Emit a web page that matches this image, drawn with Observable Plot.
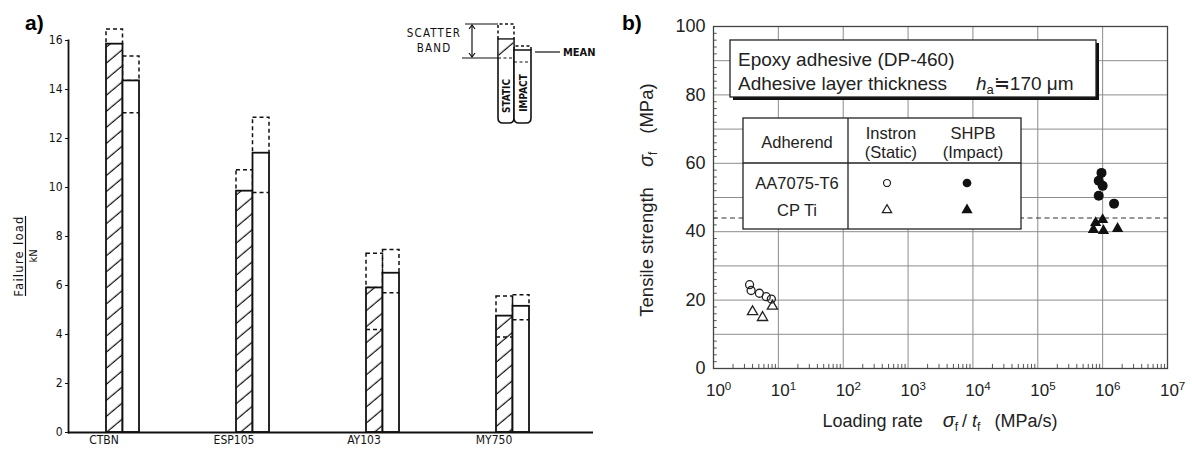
<!DOCTYPE html>
<html><head><meta charset="utf-8">
<script src="https://cdn.jsdelivr.net/npm/d3@7"></script>
<script src="https://cdn.jsdelivr.net/npm/@observablehq/plot@0.6"></script>
<style>
body{margin:0;background:#fff;}
#wrap{position:relative;width:1192px;height:449px;overflow:hidden;background:#fff;}
#a,#b{position:absolute;top:0;}
#a{left:0;} #b{left:600px;}
</style></head><body><div id="wrap"><div id="a"></div><div id="b"></div></div>
<script>
// ---------- Panel a: failure load (kN) ----------
const adhesives = ["CTBN", "ESP105", "AY103", "MY750"];
const staticMean = [15.85, 9.85, 5.9, 4.75];
const staticHigh = [16.45, 10.7, 7.3, 5.55];
const staticLow = [null, null, 4.2, 3.9];
const impactMean = [14.35, 11.4, 6.5, 5.15];
const impactHigh = [15.35, 12.85, 7.45, 5.6];
const impactLow = [13.05, 9.8, 5.7, 4.6];
const loadTicks = [0, 2, 4, 6, 8, 10, 12, 14, 16];

// ---------- Panel b: tensile strength vs loading rate ----------
const staticCircleRate = [3.6, 3.8, 5.1, 6.5, 7.8];
const staticCircleStrength = [24.5, 22.8, 22.0, 21.0, 20.3];
const staticTriangleRate = [4.0, 5.7, 8.1];
const staticTriangleStrength = [16.6, 14.9, 18.2];
const impactCircleRate = [9.6e5, 8.7e5, 1.0e6, 8.7e5, 1.5e6];
const impactCircleStrength = [57.2, 54.9, 53.4, 50.5, 48.2];
const impactTriangleRate = [7.8e5, 1.0e6, 7.2e5, 1.03e6, 1.7e6];
const impactTriangleStrength = [42.6, 43.5, 40.6, 40.3, 40.9];
const meanStrength = 44;
const rateTicks = [1, 10, 100, 1e3, 1e4, 1e5, 1e6, 1e7];
const strengthTicks = [0, 20, 40, 60, 80, 100];

// ================= PANEL A =================
const rowsA = adhesives.map((a, i) => ({
  a, sMean: staticMean[i], sHigh: staticHigh[i], sLow: staticLow[i],
  iMean: impactMean[i], iHigh: impactHigh[i], iLow: impactLow[i]
}));
const half = 16.5;
const dash = {fill: "none", stroke: "#111", strokeWidth: 1.5, strokeDasharray: "4,3"};
const plotA = Plot.plot({
  width: 600, height: 449,
  marginLeft: 68, marginRight: 7, marginTop: 40, marginBottom: 17,
  style: {fontFamily: '"DejaVu Sans Condensed", "DejaVu Sans", sans-serif', fontSize: "12px", color: "#111", background: "white"},
  x: {domain: adhesives, paddingInner: 0.746, paddingOuter: 0.392, align: 0.368},
  y: {domain: [0, 16]},
  marks: [
    Plot.barY(rowsA, {x: "a", y1: "sMean", y2: "sHigh", insetRight: half, ...dash}),
    Plot.barY(rowsA, {x: "a", y1: "iMean", y2: "iHigh", insetLeft: half, ...dash}),
    Plot.barY(rowsA, {x: "a", y: "sMean", insetRight: half, fill: "url(#hatchA)", stroke: "#111", strokeWidth: 1.8}),
    Plot.barY(rowsA, {x: "a", y: "iMean", insetLeft: half, fill: "white", stroke: "#111", strokeWidth: 1.8}),
    Plot.tickY(rowsA.filter(d => d.sLow != null), {x: "a", y: "sLow", insetRight: half, stroke: "#111", strokeWidth: 1.5, strokeDasharray: "4,3"}),
    Plot.tickY(rowsA, {x: "a", y: "iLow", insetLeft: half, stroke: "#111", strokeWidth: 1.5, strokeDasharray: "4,3"}),
    Plot.axisY({ticks: loadTicks, tickSize: 3, tickPadding: 3, label: null, fontSize: 12}),
    Plot.axisX({tickSize: 0, tickPadding: 3, label: null, fontSize: 12, dx: -19}),
    Plot.frame({anchor: "left", stroke: "#111", strokeWidth: 1.8}),
    Plot.ruleY([0], {stroke: "#111", strokeWidth: 1.8})
  ]
});
document.getElementById("a").appendChild(plotA);
{
  const s = d3.select(plotA);
  const defs = s.insert("defs", ":first-child");
  const p = defs.append("pattern").attr("id", "hatchA").attr("patternUnits", "userSpaceOnUse")
    .attr("width", 12).attr("height", 12.3).attr("patternTransform", "rotate(-40)");
  p.append("rect").attr("width", 12).attr("height", 12.3).attr("fill", "white");
  p.append("line").attr("x1", 0).attr("x2", 12).attr("y1", 6).attr("y2", 6).attr("stroke", "#111").attr("stroke-width", 1.2);

  const g = s.append("g").attr("font-family", '"DejaVu Sans Condensed", "DejaVu Sans", sans-serif').attr("fill", "#111").attr("text-anchor", "start");
  // y axis label (fraction)
  const yl = g.append("g").attr("transform", "translate(23,256) rotate(-90)");
  yl.append("text").attr("text-anchor", "middle").attr("font-size", 13).attr("letter-spacing", 1.2).text("Failure load");
  yl.append("line").attr("x1", -40).attr("x2", 40).attr("y1", 2.5).attr("y2", 2.5).attr("stroke", "#111").attr("stroke-width", 1.2);
  yl.append("text").attr("text-anchor", "middle").attr("font-size", 11).attr("y", 14).text("kN");
  // panel label
  g.append("text").attr("x", 25).attr("y", 30).attr("font-family", '"Liberation Sans", Arial, sans-serif')
    .attr("font-weight", "bold").attr("font-size", 21).attr("fill", "#000").text("a)");
  // key
  const k = g.append("g").attr("stroke", "#111").attr("fill", "none");
  g.append("text").attr("x", 434).attr("y", 37).attr("text-anchor", "middle").attr("font-size", 11.5).attr("letter-spacing", 1.2).text("SCATTER");
  g.append("text").attr("x", 434).attr("y", 52).attr("text-anchor", "middle").attr("font-size", 11.5).attr("letter-spacing", 1.2).text("BAND");
  k.append("line").attr("x1", 465).attr("x2", 498).attr("y1", 24).attr("y2", 24).attr("stroke-width", 1.2);
  k.append("line").attr("x1", 462).attr("x2", 498).attr("y1", 58).attr("y2", 58).attr("stroke-width", 1.2);
  k.append("line").attr("x1", 472).attr("x2", 472).attr("y1", 25).attr("y2", 57).attr("stroke-width", 1.2);
  k.append("path").attr("d", "M469,29 L472,25 L475,29 M469,53 L472,57 L475,53").attr("stroke-width", 1.2);
  // static mini bar
  k.append("path").attr("d", "M498,39 V24 H514 V39").attr("stroke-width", 1.5).attr("stroke-dasharray", "3,2.5");
  k.append("path").attr("d", "M498,39 V118 Q498,123 503,123 H509 Q514,123 514,118 V39 Z").attr("fill", "white").attr("stroke-width", 1.6);
  k.append("rect").attr("x", 498.8).attr("y", 39.8).attr("width", 14.4).attr("height", 18).attr("fill", "url(#hatchA)").attr("stroke", "none");
  k.append("line").attr("x1", 498).attr("x2", 531).attr("y1", 58).attr("y2", 58).attr("stroke-width", 1.2).attr("stroke-dasharray", "3,2.5");
  // impact mini bar
  k.append("path").attr("d", "M514,50 V46 H531 V50").attr("stroke-width", 1.5).attr("stroke-dasharray", "3,2.5");
  k.append("path").attr("d", "M514,50 V118 Q514,123 519,123 H526 Q531,123 531,118 V50 Z").attr("fill", "white").attr("stroke-width", 1.6);
  k.append("line").attr("x1", 514).attr("x2", 531).attr("y1", 62).attr("y2", 62).attr("stroke-width", 1.2).attr("stroke-dasharray", "3,2.5");
  g.append("text").attr("transform", "translate(510,96) rotate(-90)").attr("text-anchor", "middle").attr("font-size", 10).attr("font-weight", "bold").text("STATIC");
  g.append("text").attr("transform", "translate(526.5,93) rotate(-90)").attr("text-anchor", "middle").attr("font-size", 10).attr("font-weight", "bold").text("IMPACT");
  k.append("line").attr("x1", 535).attr("x2", 560).attr("y1", 52).attr("y2", 52).attr("stroke-width", 1.2);
  g.append("text").attr("x", 563).attr("y", 56).attr("font-size", 11).attr("font-weight", "bold").text("MEAN");
}

// ================= PANEL B =================
const mk = (rates, vals) => rates.map((r, i) => ({rate: r, strength: vals[i]}));
const staticCircles = mk(staticCircleRate, staticCircleStrength);
const staticTriangles = mk(staticTriangleRate, staticTriangleStrength);
const impactCircles = mk(impactCircleRate, impactCircleStrength);
const impactTriangles = mk(impactTriangleRate, impactTriangleStrength);
const minorX = [];
for (let e = 0; e < 7; e++) for (let m = 2; m <= 9; m++) minorX.push(m * 10 ** e);
const minorY = d3.range(2, 100, 2).filter(v => v % 10 !== 0);
const gridStyle = {stroke: "#8c8c8c", strokeOpacity: 1, strokeWidth: 1};
const plotB = Plot.plot({
  width: 592, height: 449,
  marginLeft: 113, marginRight: 25, marginTop: 26, marginBottom: 81,
  style: {fontFamily: '"Liberation Sans", Arial, sans-serif', fontSize: "17px", color: "#222", background: "white"},
  x: {type: "log", domain: [1, 1e7]},
  y: {domain: [0, 100]},
  marks: [
    Plot.gridX({ticks: rateTicks.slice(1, -1), ...gridStyle}),
    Plot.gridY({ticks: d3.range(10, 100, 10), ...gridStyle}),
    Plot.ruleX(minorX, {x: d => d, y1: 0, y2: 1.2, stroke: "#555"}),
    Plot.ruleY(minorY, {y: d => d, x1: 1, x2: 1.14, stroke: "#555"}),
    Plot.ruleY([meanStrength], {stroke: "#333", strokeWidth: 1.2, strokeDasharray: "5,3.5"}),
    Plot.frame({stroke: "#444", strokeWidth: 1.3}),
    Plot.dot(staticCircles, {x: "rate", y: "strength", r: 4, stroke: "#222", strokeWidth: 1.3, fill: "none"}),
    Plot.dot(staticTriangles, {x: "rate", y: "strength", symbol: "triangle", r: 3.8, stroke: "#222", strokeWidth: 1.3, fill: "none"}),
    Plot.dot(impactCircles, {x: "rate", y: "strength", r: 5, fill: "#111", stroke: "none"}),
    Plot.dot(impactTriangles, {x: "rate", y: "strength", symbol: "triangle", r: 4.2, fill: "#111", stroke: "none"}),
    Plot.axisY({ticks: strengthTicks, tickSize: 0, tickPadding: 8, label: null, fontSize: 18}),
    Plot.axisX({ticks: rateTicks, tickSize: 0, tickPadding: 15, label: null, fontSize: 17,
      tickFormat: d => "10^" + Math.round(Math.log10(d))})
  ]
});
document.getElementById("b").appendChild(plotB);
{
  const s = d3.select(plotB);
  s.selectAll('g[aria-label="x-axis tick label"] text').each(function () {
    const [b, e] = this.textContent.split("^");
    this.textContent = "";
    const t = d3.select(this).attr("dx", "0.3em");
    t.append("tspan").text(b);
    t.append("tspan").attr("dy", "-0.5em").attr("font-size", "0.68em").text(e);
  });
  const font = '"Liberation Sans", Arial, sans-serif';
  const g = s.append("g").attr("font-family", font).attr("fill", "#222").attr("text-anchor", "start");
  g.append("text").attr("x", 22).attr("y", 30).attr("font-weight", "bold").attr("font-size", 21).attr("fill", "#000").text("b)");
  // y label
  const yl = g.append("text").attr("transform", "translate(53,200) rotate(-90)").attr("text-anchor", "middle").attr("font-size", 18.5);
  yl.append("tspan").text("Tensile strength");
  yl.append("tspan").attr("dx", 20).attr("font-style", "italic").attr("font-size", 20).text("σ");
  yl.append("tspan").attr("dy", 4).attr("font-size", 12).text("f");
  yl.append("tspan").attr("dy", -4).attr("dx", 18).text("(MPa)");
  // x label
  const xl = g.append("text").attr("x", 340).attr("y", 427).attr("text-anchor", "middle").attr("font-size", 18);
  xl.append("tspan").text("Loading rate");
  xl.append("tspan").attr("dx", 20).attr("font-style", "italic").attr("font-size", 20).text("σ");
  xl.append("tspan").attr("dy", 4).attr("font-size", 12).text("f");
  xl.append("tspan").attr("dy", -4).attr("dx", 4).text("/ ");
  xl.append("tspan").attr("font-style", "italic").text("t");
  xl.append("tspan").attr("dy", 4).attr("font-size", 12).text("f");
  xl.append("tspan").attr("dy", -4).attr("dx", 14).text("(MPa/s)");
  // info box
  g.append("rect").attr("x", 133).attr("y", 43).attr("width", 366).attr("height", 57).attr("fill", "#111");
  g.append("rect").attr("x", 130).attr("y", 40).attr("width", 366).attr("height", 57).attr("fill", "white").attr("stroke", "#222").attr("stroke-width", 1.3);
  g.append("text").attr("x", 138).attr("y", 66).attr("font-size", 19).text("Epoxy adhesive (DP-460)");
  const t2 = g.append("text").attr("x", 138).attr("y", 90).attr("font-size", 19);
  t2.append("tspan").text("Adhesive layer thickness");
  t2.append("tspan").attr("x", 376).attr("font-style", "italic").text("h");
  t2.append("tspan").attr("font-size", 13).attr("dy", 4).text("a");
  t2.append("tspan").attr("dy", -4).text("≒170 μm");
  // legend table
  g.append("rect").attr("x", 143).attr("y", 118).attr("width", 278).attr("height", 111).attr("fill", "white").attr("stroke", "#222").attr("stroke-width", 1.3);
  g.append("line").attr("x1", 143).attr("x2", 421).attr("y1", 163).attr("y2", 163).attr("stroke", "#222").attr("stroke-width", 1.3);
  g.append("line").attr("x1", 248).attr("x2", 248).attr("y1", 118).attr("y2", 229).attr("stroke", "#222").attr("stroke-width", 1.3);
  const tc = (x, y, str) => g.append("text").attr("x", x).attr("y", y).attr("text-anchor", "middle").attr("font-size", 16.5).text(str);
  tc(197, 148, "Adherend");
  tc(197, 189, "AA7075-T6");
  tc(197, 216, "CP Ti");
  tc(291, 139, "Instron");
  tc(291, 158, "(Static)");
  tc(373, 139, "SHPB");
  tc(373, 158, "(Impact)");
  const sym = (x, y, type, size, filled) => g.append("path")
    .attr("d", d3.symbol(type, size)()).attr("transform", `translate(${x},${y})`)
    .attr("fill", filled ? "#111" : "none").attr("stroke", filled ? "none" : "#222").attr("stroke-width", 1.2);
  sym(287, 183, d3.symbolCircle, 38, false);
  sym(367, 183, d3.symbolCircle, 60, true);
  sym(287, 210, d3.symbolTriangle, 38, false);
  sym(367, 210, d3.symbolTriangle, 55, true);
}
</script></body></html>
